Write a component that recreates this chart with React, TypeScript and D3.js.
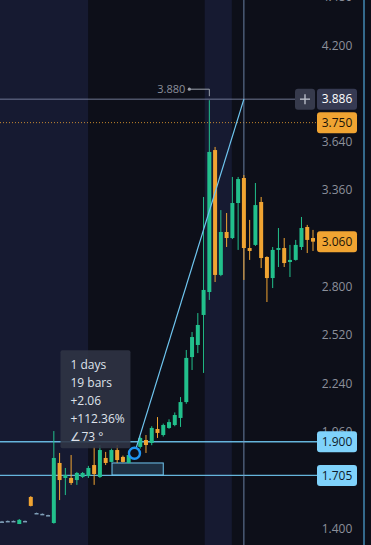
import React from "react";
import * as d3 from "d3";

const W = 371;
const H = 545;

// candle data (index order)
const opens = [1.438, 1.441, 1.441, 1.423, 1.441, 1.580, 1.487, 1.482, 1.475, 1.429,
  1.777, 1.690, 1.690, 1.678, 1.696, 1.701, 1.765, 1.696, 1.806, 1.783,
  1.852, 1.812, 1.777, 1.806, 1.870, 1.910, 1.893, 1.974, 1.939, 1.980,
  1.997, 2.038, 2.130, 2.391, 2.461, 2.635, 2.768, 3.591, 2.867, 3.116,
  3.081, 3.284, 3.429, 3.023, 3.041, 3.290, 2.971, 2.849, 3.012, 3.023,
  2.942, 2.954, 3.029, 3.145, 3.081];
const highs = [1.441, 1.443, 1.443, 1.452, 1.443, 1.585, 1.489, 1.484, 1.477, 1.962,
  1.835, 1.748, 1.823, 1.725, 1.725, 1.760, 1.870, 1.881, 1.841, 1.860,
  1.881, 1.820, 1.830, 1.870, 1.930, 1.939, 1.990, 2.043, 2.005, 2.030,
  2.070, 2.159, 2.432, 2.536, 2.646, 3.319, 3.880, 3.609, 3.243, 3.226,
  3.435, 3.435, 3.446, 3.186, 3.400, 3.319, 2.975, 3.029, 3.139, 3.081,
  3.041, 3.070, 3.203, 3.157, 3.128];
const lows = [1.435, 1.439, 1.439, 1.423, 1.439, 1.525, 1.485, 1.480, 1.473, 1.425,
  1.562, 1.591, 1.650, 1.650, 1.690, 1.690, 1.650, 1.690, 1.765, 1.780,
  1.777, 1.780, 1.775, 1.800, 1.860, 1.835, 1.880, 1.922, 1.930, 1.975,
  1.990, 1.986, 2.120, 2.316, 2.414, 2.299, 2.722, 2.826, 2.860, 3.029,
  3.075, 3.012, 2.838, 2.954, 3.035, 2.907, 2.710, 2.791, 2.913, 2.913,
  2.855, 2.950, 3.012, 2.994, 3.006];
const closes = [1.438, 1.441, 1.441, 1.447, 1.441, 1.528, 1.487, 1.482, 1.475, 1.806,
  1.678, 1.707, 1.661, 1.719, 1.719, 1.748, 1.713, 1.852, 1.777, 1.852,
  1.794, 1.783, 1.823, 1.852, 1.922, 1.881, 1.980, 1.951, 1.997, 2.014,
  2.055, 2.130, 2.386, 2.507, 2.577, 2.780, 3.580, 2.867, 3.116, 3.081,
  3.284, 3.423, 3.023, 3.006, 3.272, 2.965, 2.849, 3.012, 3.023, 2.936,
  2.954, 3.041, 3.139, 3.070, 3.060];

const axisTicks = [4.48, 4.2, 3.92, 3.64, 3.36, 3.08, 2.8, 2.52, 2.24, 1.96, 1.68, 1.4];

// session highlight bands (in bar index units)
const bandStarts = [-2, 35.2];
const bandEnds = [14.95, 39.9];

// measure tool
const measureStartIdx = 23;
const measureStartPrice = 1.833;
const measureEndIdx = 42;
const measureEndPrice = 3.886;
const tooltipLines = ["1 days", "19 bars", "+2.06", "+112.36%", "∠73 °"];

// box drawn near bottom
const boxStartIdx = 19.1;
const boxEndIdx = 28;
const boxTop = 1.777;
const boxBottom = 1.707;

// horizontal lines
const hLinePrices = [1.9, 1.705];
const lastPrice = 3.06;
const dottedPrice = 3.75;
const highMark = 3.88;
const highMarkIdx = 36;

const UP = "#22c08c";
const DOWN = "#f0a432";
const FLAT = "#7f9fb8";
const BG = "#0d0f19";
const BAND = "#161a31";
const AXIS_TEXT = "#8c909b";
const LIGHT_BLUE = "#6fc6f0";

export default function App() {
  const x = d3.scaleLinear().domain([0, 54]).range([2, 313]);
  const y = d3.scaleLinear().domain([1.4, 4.2]).range([528, 45]);
  const plotRight = 316;
  const axisLeft = 317;
  const labelW = 40;
  const labelH = 21;
  const font = "'Open Sans', 'Noto Sans', sans-serif";

  const fmt = d3.format(".3f");
  const bodyW = 4;

  const sx = x(measureStartIdx);
  const sy = y(measureStartPrice);
  const ex = x(measureEndIdx);
  const ey = y(measureEndPrice);

  const tipW = 70;
  const tipH = 98;
  const tipX = sx - 4 - tipW;
  const tipY = sy - 5 - tipH;

  const labelPrices = [...hLinePrices, lastPrice, dottedPrice, measureEndPrice];
  // tick labels fully hidden behind a price label are not drawn
  const visibleTicks = axisTicks.filter(
    (t) => !labelPrices.some((p) => Math.abs(y(t) - y(p)) < 8)
  );

  const priceLabel = (p: number, bg: string, fg: string, key: string) => (
    <g key={key}>
      <rect x={axisLeft} y={y(p) - labelH / 2} width={labelW} height={labelH} rx={3} fill={bg} />
      <text x={axisLeft + labelW / 2} y={y(p)} dy="0.35em" textAnchor="middle" fontSize={12} fill={fg} fontFamily={font}>
        {fmt(p)}
      </text>
    </g>
  );

  return (
    <svg width={W} height={H} style={{ position: "fixed", left: 0, top: 0, display: "block" }}>
      <rect x={0} y={0} width={W} height={H} fill={BG} />
      <defs>
        <clipPath id="plot">
          <rect x={0} y={0} width={plotRight} height={H} />
        </clipPath>
      </defs>
      <g clipPath="url(#plot)">
        {bandStarts.map((b, i) => (
          <rect key={i} x={x(b)} y={0} width={x(bandEnds[i]) - x(b)} height={H} fill={BAND} />
        ))}
      </g>

      {/* axis tick labels */}
      {visibleTicks.map((t) => (
        <text key={t} x={337} y={y(t)} dy="0.38em" textAnchor="middle" fontSize={12} fill={AXIS_TEXT} fontFamily={font}>
          {fmt(t)}
        </text>
      ))}

      {/* horizontal lines */}
      {hLinePrices.map((p) => (
        <line key={p} x1={0} x2={axisLeft} y1={y(p)} y2={y(p)} stroke={LIGHT_BLUE} strokeWidth={1.3} opacity={0.9} />
      ))}
      <line x1={0} x2={plotRight} y1={y(dottedPrice)} y2={y(dottedPrice)} stroke={DOWN} strokeWidth={1} strokeDasharray="1,2" opacity={0.8} />

      {/* crosshair */}
      <line x1={0} x2={295} y1={ey} y2={ey} stroke="#8890b0" strokeWidth={1} opacity={0.8} />
      <line x1={ex} x2={ex} y1={0} y2={H} stroke="#7f9cc4" strokeWidth={1} opacity={0.8} />
      <line x1={364} x2={364} y1={0} y2={H} stroke="#4fa6d8" strokeWidth={1.2} />

      {/* measure box */}
      <rect
        x={x(boxStartIdx)}
        y={y(boxTop)}
        width={x(boxEndIdx) - x(boxStartIdx)}
        height={y(boxBottom) - y(boxTop)}
        fill="rgba(90,170,220,0.22)"
        stroke={LIGHT_BLUE}
        strokeWidth={1}
      />

      {/* candles */}
      <g clipPath="url(#plot)">
        {closes.map((c, i) => {
          const o = opens[i];
          const col = c > o ? UP : c < o ? DOWN : FLAT;
          const top = y(Math.max(o, c));
          const bot = y(Math.min(o, c));
          const cx = x(i);
          return (
            <g key={i}>
              <line x1={cx} x2={cx} y1={y(highs[i])} y2={y(lows[i])} stroke={col} strokeWidth={1} />
              <rect x={cx - bodyW / 2} y={top} width={bodyW} height={Math.max(1.5, bot - top)} fill={col} />
            </g>
          );
        })}
      </g>

      {/* high marker */}
      <text x={x(highMarkIdx) - 24} y={y(highMark) - 11} dy="0.35em" textAnchor="end" fontSize={11} fill="#8c909b" fontFamily={font}>
        {fmt(highMark)}
      </text>
      <circle cx={x(highMarkIdx) - 20} cy={y(highMark) - 11} r={1.6} fill="#9aa0ab" />
      <path
        d={`M${x(highMarkIdx) - 20},${y(highMark) - 11}H${x(highMarkIdx)}V${y(highMark) - 4}`}
        fill="none"
        stroke="#9aa0ab"
        strokeWidth={1}
      />

      {/* measure line */}
      <line x1={sx} y1={sy} x2={ex} y2={ey} stroke={LIGHT_BLUE} strokeWidth={1.2} />
      <circle cx={sx} cy={sy} r={5.5} fill={BG} stroke="#2196f3" strokeWidth={2.4} />

      {/* tooltip */}
      <rect x={tipX} y={tipY} width={tipW} height={tipH} rx={2} fill="rgba(48,52,68,0.88)" />
      {tooltipLines.map((t, i) => (
        <text key={i} x={tipX + 10} y={tipY + 14 + i * 18.2} dy="0.35em" fontSize={12} fill="#dfe2ea" fontFamily={font}>
          {t}
        </text>
      ))}

      {/* price labels */}
      {priceLabel(hLinePrices[0], "#7fd2fb", "#0e1a2a", "l1")}
      {priceLabel(hLinePrices[1], "#7fd2fb", "#0e1a2a", "l2")}
      {priceLabel(lastPrice, "#f0a432", "#1a1408", "l3")}
      {priceLabel(dottedPrice, "#f0a432", "#1a1408", "l4")}
      {priceLabel(measureEndPrice, "#363a52", "#ffffff", "l5")}

      {/* plus button */}
      <rect x={295} y={ey - labelH / 2} width={20} height={labelH} rx={3} fill="#363a4c" />
      <line x1={300} x2={310} y1={ey} y2={ey} stroke="#b8bcc8" strokeWidth={1.4} />
      <line x1={305} x2={305} y1={ey - 5} y2={ey + 5} stroke="#b8bcc8" strokeWidth={1.4} />
    </svg>
  );
}
